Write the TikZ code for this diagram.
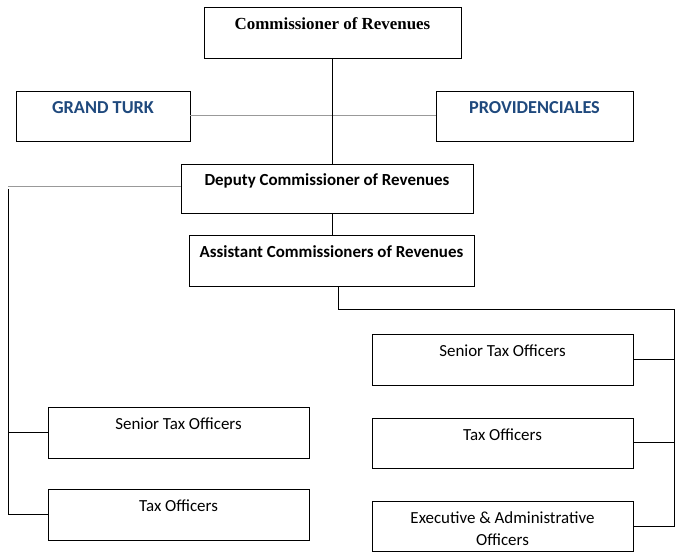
\documentclass[tikz,border=0pt]{standalone}
\usepackage{fontspec}
\setmainfont{Carlito}
\newfontfamily\timesfont{Liberation Serif}
\definecolor{turkblue}{RGB}{31,73,125}

\begin{document}
\begin{tikzpicture}[x=0.75pt,y=-0.75pt,
      box/.style={draw,inner sep=0pt,text height=16.5pt,text depth=20.5pt,
        font=\fontsize{12.7}{14}\selectfont},
      twoline/.style={draw,inner sep=0pt,align=center,
        font=\fontsize{12.7}{16.5}\selectfont},
      isle/.style={box,font=\fontsize{13.7}{15}\selectfont\bfseries,text=turkblue},
      link/.style={line width=0.75pt},
      thin/.style={line width=0.75pt,gray!80}]
    \useasboundingbox (0,0) rectangle (682,559);
    % top of the chart
    \node[box,minimum width=192.75pt,minimum height=38.25pt,
      font=\timesfont\fontsize{12.7}{14}\selectfont\bfseries] (comm) at (332.5,32.5)
      {Commissioner of Revenues};
    \node[isle,minimum width=130.5pt,minimum height=37.5pt] (gturk) at (103,116) {GRAND TURK};
    \node[isle,minimum width=147.75pt,minimum height=37.5pt] (provo) at (534.5,116) {PROVIDENCIALES};
    \node[box,minimum width=219pt,minimum height=36.75pt,
      font=\fontsize{12.7}{14}\selectfont\bfseries] (deputy) at (327,188.5)
      {Deputy Commissioner of Revenues};
    \node[box,minimum width=213.75pt,minimum height=38.25pt,
      font=\fontsize{12.7}{14}\selectfont\bfseries] (assist) at (331.5,260.5)
      {Assistant Commissioners of Revenues};
    % right branch
    \node[box,minimum width=195.75pt,minimum height=38.25pt] (rsenior) at (502.5,359.5) {Senior Tax Officers};
    \node[box,minimum width=195.75pt,minimum height=37.5pt] (rtax) at (502.5,443) {Tax Officers};
    \node[twoline,minimum width=195.75pt,minimum height=37.5pt] (rexec) at (502.5,526)
      {\rule{0pt}{12.5pt}Executive \& Administrative\\Officers};
    % left branch
    \node[box,minimum width=195.75pt,minimum height=38.25pt] (lsenior) at (178.5,432.5) {Senior Tax Officers};
    \node[box,minimum width=195.75pt,minimum height=38.25pt] (ltax) at (178.5,514.5) {Tax Officers};

    \coordinate (lbus) at (8,187);
    \coordinate (rbus) at (674,310);
    \draw[thin] (gturk) -- (provo);
    \draw[link] (comm.south) -- (comm.south |- deputy.north);
    \draw[link] (deputy.south -| comm.south) -- (assist.north -| comm.south);
    \draw[thin] (deputy.west |- lbus) -- (lbus);
    \draw[link] ([yshift=-1.5pt]lbus) |- (ltax.west);
    \draw[link] (lbus |- lsenior.west) -- (lsenior.west);
    \draw[link] (assist.south -| 338,0) |- (rbus) |- (rexec.east);
    \draw[link] (rsenior.east -| rbus) -- (rsenior.east);
    \draw[link] (rtax.east -| rbus) -- (rtax.east);
\end{tikzpicture}
\end{document}
